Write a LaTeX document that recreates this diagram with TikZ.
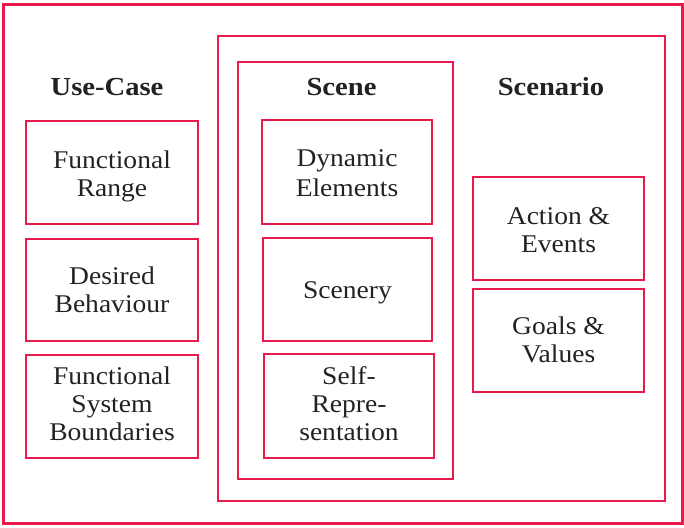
\documentclass[tikz,border=0pt]{standalone}
\usepackage{fontspec}
\setmainfont{Liberation Serif}[FakeStretch=1.08]
\newfontfamily\headfont{Liberation Serif}[FakeStretch=1.1]
\definecolor{frame}{HTML}{E8194B}
\definecolor{ink}{HTML}{222222}
\begin{document}
\begin{tikzpicture}[x=1pt,y=-1pt,
  box/.style={draw=frame,line width=2.7pt,rectangle,inner sep=0pt},
  label text/.style={inner sep=0pt,align=center,text=ink,
    font=\fontsize{25.5}{28}\selectfont},
  head/.style={font=\headfont\fontsize{26}{28}\selectfont\bfseries,text=ink,inner sep=0pt}]
\useasboundingbox (0,0) rectangle (684,527);
% frames
\node[box,minimum width=679,minimum height=519] (outer) at (343,264) {};
\node[box,minimum width=447,minimum height=465] (scenarioframe) at (441.5,268.5) {};
\node[box,minimum width=215,minimum height=417] (sceneframe) at (345.5,270.5) {};
% headings
\node[head] (hucase) at (107,87.5) {Use-Case};
\node[head] (hscene) at (341.5,87) {Scene};
\node[head] (hscenario) at (551,87) {Scenario};
% boxes
\node[box,minimum width=172,minimum height=103] (fr) at (112,172.5) {};
\node[box,minimum width=172,minimum height=102] (db) at (112,290) {};
\node[box,minimum width=172,minimum height=103] (fsb) at (112,406.5) {};
\node[box,minimum width=170,minimum height=104] (dyn) at (347,172) {};
\node[box,minimum width=169,minimum height=103] (scenery) at (347.5,289.5) {};
\node[box,minimum width=170,minimum height=104] (selfrep) at (349,406) {};
\node[box,minimum width=171,minimum height=103] (ae) at (558.5,228.5) {};
\node[box,minimum width=171,minimum height=103] (gv) at (558.5,340.5) {};
% box texts
\node[label text] (frt) at ([yshift=-4]fr.center) {Functional\\Range};
\node[label text] (dbt) at (db.center) {Desired\\Behaviour};
\node[label text] (fsbt) at ([yshift=3]fsb.center) {Functional\\System\\Boundaries};
\node[label text,font=\fontsize{25.5}{30}\selectfont] (dynt) at ([yshift=-1.5]dyn.center) {Dynamic\\Elements};
\node[label text] (sceneryt) at ([yshift=-3]scenery.center) {Scenery};
\node[label text] (selfrept) at ([yshift=2.5]selfrep.center) {Self-\\Repre-\\sentation};
\node[label text] (aet) at ([yshift=-2]ae.center) {Action \&\\Events};
\node[label text] (gvt) at ([yshift=1]gv.center) {Goals \&\\Values};
\end{tikzpicture}
\end{document}
